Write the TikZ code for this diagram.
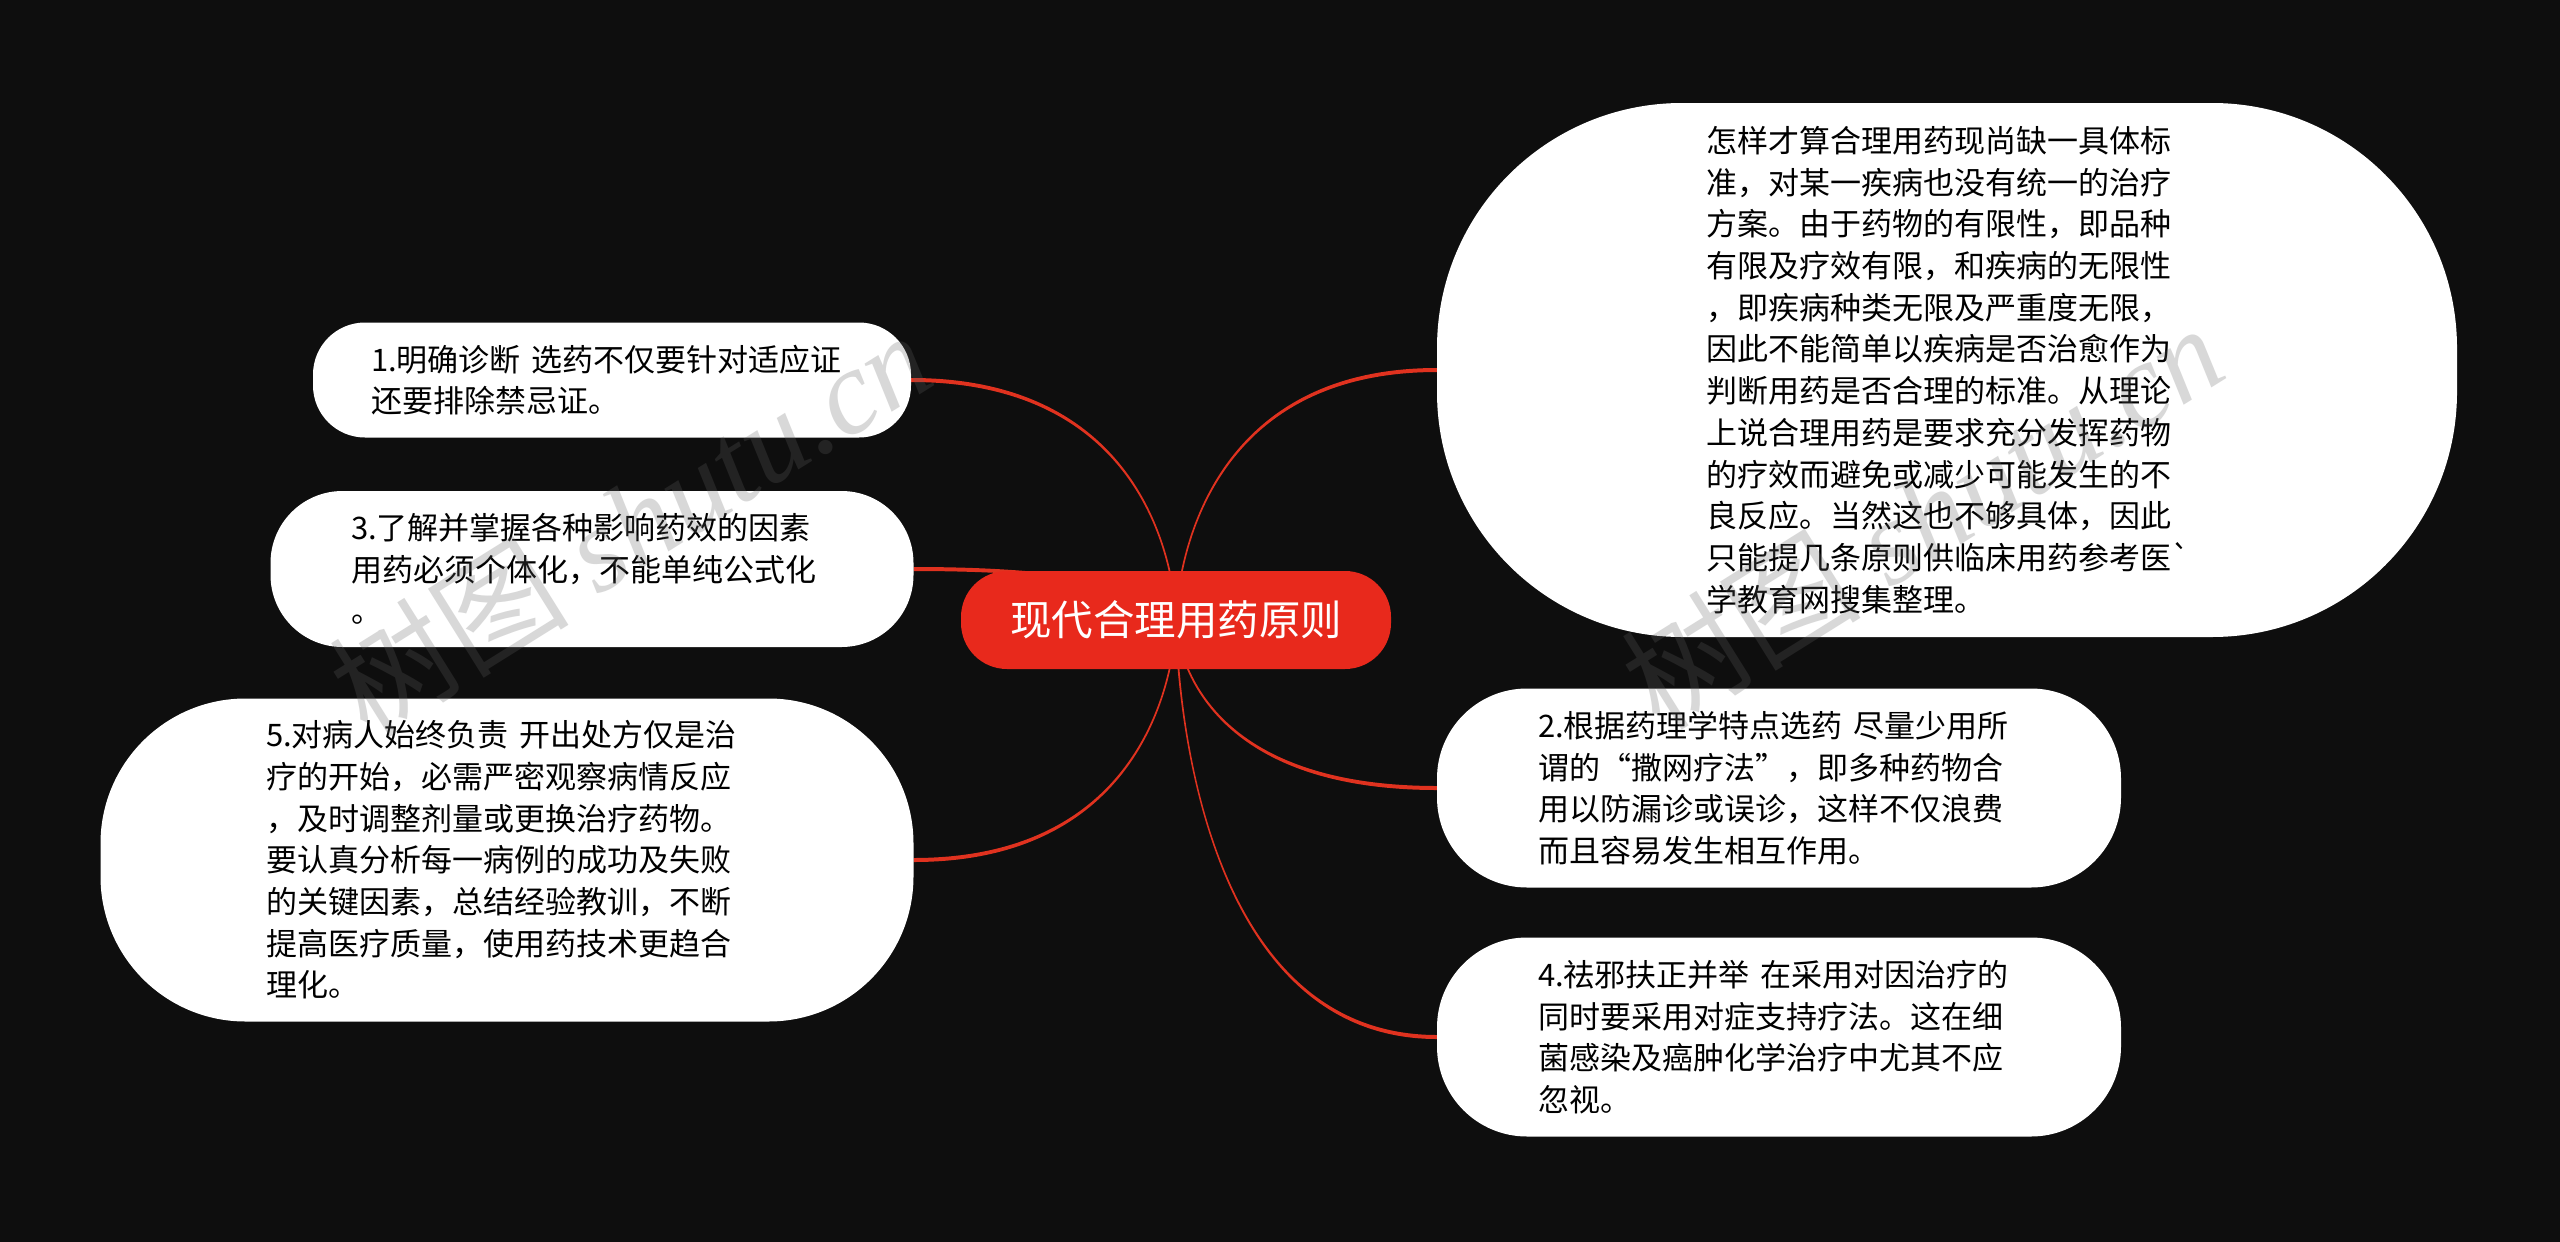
\documentclass[tikz,border=0pt]{standalone}
\usepackage{fontspec}
\usetikzlibrary{calc}
\setmainfont{Noto Sans CJK SC}[Ligatures=TeXOff]
\newfontfamily\wmserif{Liberation Serif}
\newfontfamily\wmcjk{Noto Sans CJK SC}
\definecolor{bgcol}{HTML}{0E0E0E}
\definecolor{rootred}{HTML}{E8291C}
\definecolor{linkred}{HTML}{E0321F}
\definecolor{wmgray}{RGB}{100,100,100}
\pgfdeclarelayer{bglayer}
\pgfdeclarelayer{linklayer}
\pgfsetlayers{bglayer,linklayer,main}
% tapered connector from a child anchor (#1) to the root centre; #2 = +1 or -1 keeps the ribbon untwisted
\newcommand{\taperlink}[2]{%
  \fill[linkred] ($(#1)+(0,2)$) .. controls ($(root.center |- #1)+(0,2)$) and ($(root.center)+(#2,0)$) .. ($(root.center)+(#2,0)$)
    -- ($(root.center)+(-#2,0)$) .. controls ($(root.center)+(-#2,0)$) and ($(root.center |- #1)+(0,-2)$) .. ($(#1)+(0,-2)$) -- cycle;}
\begin{document}
\begin{tikzpicture}[x=1pt,y=-1pt,
  leaf/.style={fill=white, text=black, inner sep=0pt, align=left, text width=482pt,
    font=\fontsize{31}{41.7}\selectfont},
  rootbox/.style={fill=rootred, text=white, inner sep=0pt, minimum width=430pt,
    minimum height=98pt, rounded corners=46pt, font=\fontsize{41.5}{50}\selectfont},
  wmark/.style={text=wmgray, text opacity=0.25, rotate=32, inner sep=0pt,
    font=\fontsize{120}{120}\selectfont}
]
\useasboundingbox (0,0) rectangle (2560,1242);
\begin{pgfonlayer}{bglayer}
  \fill[bgcol] (0,0) rectangle (2560,1242);
\end{pgfonlayer}

\node[rootbox] (root) at (1176,620) {现代合理用药原则};

\node[leaf, minimum width=1020pt, minimum height=534pt, rounded corners=245pt] (tr) at (1947,370)
 {怎样才算合理用药现尚缺一具体标\\准，对某一疾病也没有统一的治疗\\方案。由于药物的有限性，即品种\\有限及疗效有限，和疾病的无限性\\，即疾病种类无限及严重度无限，\\因此不能简单以疾病是否治愈作为\\判断用药是否合理的标准。从理论\\上说合理用药是要求充分发挥药物\\的疗效而避免或减少可能发生的不\\良反应。当然这也不够具体，因此\\只能提几条原则供临床用药参考医`\\学教育网搜集整理。};

\node[leaf, minimum width=598pt, minimum height=115pt, rounded corners=52pt] (n1) at (612,380)
 {1.明确诊断 选药不仅要针对适应证\\还要排除禁忌证。};

\node[leaf, minimum width=643pt, minimum height=156pt, rounded corners=72pt] (n3) at (592,569)
 {3.了解并掌握各种影响药效的因素\\用药必须个体化，不能单纯公式化\\。};

\node[leaf, minimum width=813pt, minimum height=323pt, rounded corners=145pt] (n5) at (507,860)
 {5.对病人始终负责 开出处方仅是治\\疗的开始，必需严密观察病情反应\\，及时调整剂量或更换治疗药物。\\要认真分析每一病例的成功及失败\\的关键因素，总结经验教训，不断\\提高医疗质量，使用药技术更趋合\\理化。};

\node[leaf, minimum width=684pt, minimum height=199pt, rounded corners=90pt] (n2) at (1779,788)
 {2.根据药理学特点选药 尽量少用所\\谓的“撒网疗法”，即多种药物合\\用以防漏诊或误诊，这样不仅浪费\\而且容易发生相互作用。};

\node[leaf, minimum width=684pt, minimum height=199pt, rounded corners=90pt] (n4) at (1779,1037)
 {4.祛邪扶正并举 在采用对因治疗的\\同时要采用对症支持疗法。这在细\\菌感染及癌肿化学治疗中尤其不应\\忽视。};

\begin{pgfonlayer}{linklayer}
  \taperlink{n1.east}{-1}
  \taperlink{n3.east}{-1}
  \taperlink{n5.east}{1}
  \taperlink{tr.west}{1}
  \taperlink{n2.west}{-1}
  \taperlink{n4.west}{-1}
\end{pgfonlayer}

\node[wmark] (wm1) at (630,522) {\wmcjk 树图\wmserif\itshape\ shutu.cn};
\node[wmark] (wm2) at (1922,515) {\wmcjk 树图\wmserif\itshape\ shutu.cn};
\end{tikzpicture}
\end{document}
